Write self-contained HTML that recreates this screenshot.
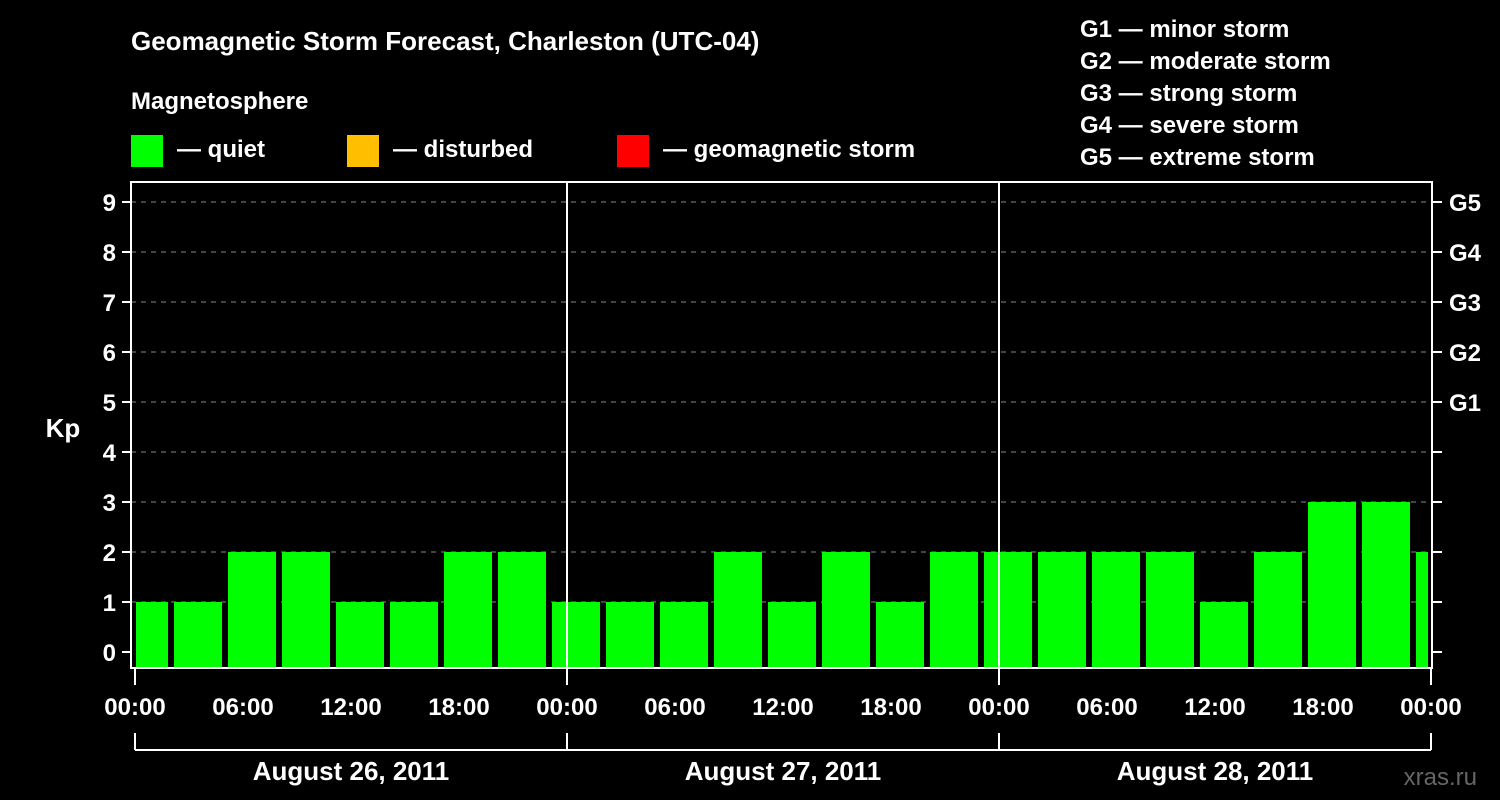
<!DOCTYPE html>
<html><head><meta charset="utf-8"><style>
html,body{margin:0;padding:0;background:#000;}
svg{display:block;font-family:"Liberation Sans",sans-serif;font-weight:bold;}
</style></head><body>
<svg width="1500" height="800" viewBox="0 0 1500 800">
<rect width="1500" height="800" fill="#000"/>
<text x="131" y="50" fill="#fff" font-size="26">Geomagnetic Storm Forecast, Charleston (UTC-04)</text>
<text x="131" y="109" fill="#fff" font-size="24">Magnetosphere</text>
<g><rect x="131" y="135" width="32" height="32" fill="#00ff00"/><text x="177" y="157" fill="#fff" font-size="24">— quiet</text></g>
<g><rect x="347" y="135" width="32" height="32" fill="#ffbf00"/><text x="393" y="157" fill="#fff" font-size="24">— disturbed</text></g>
<g><rect x="617" y="135" width="32" height="32" fill="#ff0000"/><text x="663" y="157" fill="#fff" font-size="24">— geomagnetic storm</text></g>
<g fill="#fff" font-size="24">
<text x="1080" y="37">G1 — minor storm</text>
<text x="1080" y="69">G2 — moderate storm</text>
<text x="1080" y="101">G3 — strong storm</text>
<text x="1080" y="133">G4 — severe storm</text>
<text x="1080" y="165">G5 — extreme storm</text>
</g>
<text x="63" y="437" fill="#fff" font-size="26" text-anchor="middle">Kp</text>
<text x="1477" y="785" fill="#666" font-size="24" text-anchor="end" font-weight="normal">xras.ru</text>
<g id="grid"></g>
<g id="bars"></g>
<g id="axes"></g>
</svg>
<script>
const kpValues=[1,1,2,2,1,1,2,2,1,1,1,2,1,2,1,2,2,2,2,2,1,2,3,3,2];
const yTicks=[0,1,2,3,4,5,6,7,8,9];
const gLabels=["G1","G2","G3","G4","G5"];
const gLevels=[5,6,7,8,9];
const dayLabels=["August 26, 2011","August 27, 2011","August 28, 2011"];
const hourLabels=["00:00","06:00","12:00","18:00"];
const blockStartHour=-1; // local hour where first 3h block starts (UTC-4)

const NS="http://www.w3.org/2000/svg";
const X0=135,PXH=18,L=131,R=1432,T=182,B=668;
const xs=h=>X0+h*PXH;
const ys=v=>652-v*50;
function mk(tag,attrs,parent,text){const e=document.createElementNS(NS,tag);for(const k in attrs)e.setAttribute(k,attrs[k]);if(text!==undefined)e.textContent=text;parent.appendChild(e);return e;}
const grid=document.getElementById('grid'),bars=document.getElementById('bars'),axes=document.getElementById('axes');
yTicks.forEach(v=>{
 if(v>0){const g=mk('line',{x1:L,x2:R,y1:ys(v),y2:ys(v),stroke:'#888','stroke-width':1,'stroke-dasharray':'5,5'},grid);
 
 }
 const t=mk('text',{x:116,y:ys(v)+9,fill:'#fff','font-size':24,'text-anchor':'end'},axes,String(v));
 
 
 mk('line',{x1:122,x2:L,y1:ys(v),y2:ys(v),stroke:'#fff','stroke-width':2},axes);
 mk('line',{x1:R,x2:1442,y1:ys(v),y2:ys(v),stroke:'#fff','stroke-width':2},axes);
});
gLevels.forEach((v,i)=>{
 const t=mk('text',{x:1449,y:ys(v)+9,fill:'#fff','font-size':24},axes,gLabels[i]);
 
 
});
const totalH=dayLabels.length*24;
kpValues.forEach((v,i)=>{
 let h0=blockStartHour+i*3,h1=h0+3;
 let x0=Math.max(xs(h0)+3,xs(0)+1),x1=Math.min(xs(h1)-3,xs(totalH)-3);
 if(x1<=x0)return;
 const c=v>=5?'#ff0000':(v>=4?'#ffbf00':'#00ff00');
 const r=mk('rect',{x:x0,y:ys(v),width:x1-x0,height:B-ys(v),fill:c},bars);
 
 
});
mk('rect',{x:L,y:T,width:R-L,height:B-T,fill:'none',stroke:'#fff','stroke-width':2},axes);
for(let d=0;d<dayLabels.length;d++){
 if(d>0)mk('line',{x1:xs(d*24),x2:xs(d*24),y1:T,y2:B,stroke:'#fff','stroke-width':2},axes);
 hourLabels.forEach((lab,j)=>{
  const h=d*24+j*6;
  const t=mk('text',{x:xs(h),y:715,fill:'#fff','font-size':24,'text-anchor':'middle'},axes,lab);
  
  
 });
 const t=mk('text',{x:xs(d*24+12),y:780,fill:'#fff','font-size':26,'text-anchor':'middle'},axes,dayLabels[d]);
 
 
}
const t=mk('text',{x:xs(totalH),y:715,fill:'#fff','font-size':24,'text-anchor':'middle'},axes,hourLabels[0]);


for(let d=0;d<=dayLabels.length;d++){
 mk('line',{x1:xs(d*24),x2:xs(d*24),y1:B,y2:685,stroke:'#fff','stroke-width':2},axes);
 mk('line',{x1:xs(d*24),x2:xs(d*24),y1:733,y2:750,stroke:'#fff','stroke-width':2},axes);
}
mk('line',{x1:xs(0),x2:xs(totalH),y1:750,y2:750,stroke:'#fff','stroke-width':2},axes);
</script>
</body></html>
